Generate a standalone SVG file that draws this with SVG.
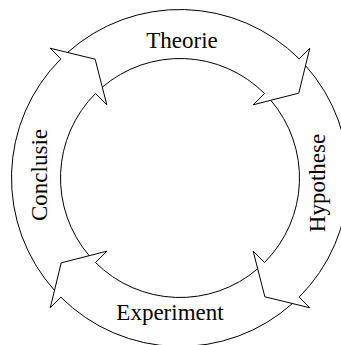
<svg xmlns="http://www.w3.org/2000/svg" width="341" height="345" viewBox="0 0 341 345">
<style>
.seg{fill:none;stroke:#000;stroke-width:1;stroke-linejoin:miter}
.lbl{font-family:"Liberation Serif","Times New Roman",serif;font-size:23px;fill:#000;text-anchor:middle}
</style>
<rect width="341" height="345" fill="#fff"/>
<g id="theorie">
<path class="seg" d="M67.58,52.48 A168.5,168.5 0 0 1 299.15,58.85 L309.75,48.25 L298.79,93.15 L253.19,104.81 L264.50,93.50 A119.5,119.5 0 0 0 102.31,87.20"/>
<text class="lbl" x="182" y="48">Theorie</text>
</g>
<g id="hypothese">
<path class="seg" d="M305.52,65.58 A168.5,168.5 0 0 1 299.15,297.15 L309.75,307.75 L264.85,296.79 L253.19,251.19 L264.50,262.50 A119.5,119.5 0 0 0 270.80,100.31"/>
<text class="lbl" transform="translate(325,183) rotate(-90)">Hypothese</text>
</g>
<g id="experiment">
<path class="seg" d="M292.42,303.52 A168.5,168.5 0 0 1 60.85,297.15 L50.25,307.75 L61.21,262.85 L106.81,251.19 L95.50,262.50 A119.5,119.5 0 0 0 257.69,268.80"/>
<text class="lbl" x="170" y="320">Experiment</text>
</g>
<g id="conclusie">
<path class="seg" d="M54.48,290.42 A168.5,168.5 0 0 1 60.85,58.85 L50.25,48.25 L95.15,59.21 L106.81,104.81 L95.50,93.50 A119.5,119.5 0 0 0 89.20,255.69"/>
<text class="lbl" transform="translate(47,175) rotate(-90)">Conclusie</text>
</g>
<g id="connectors"></g>
</svg>
